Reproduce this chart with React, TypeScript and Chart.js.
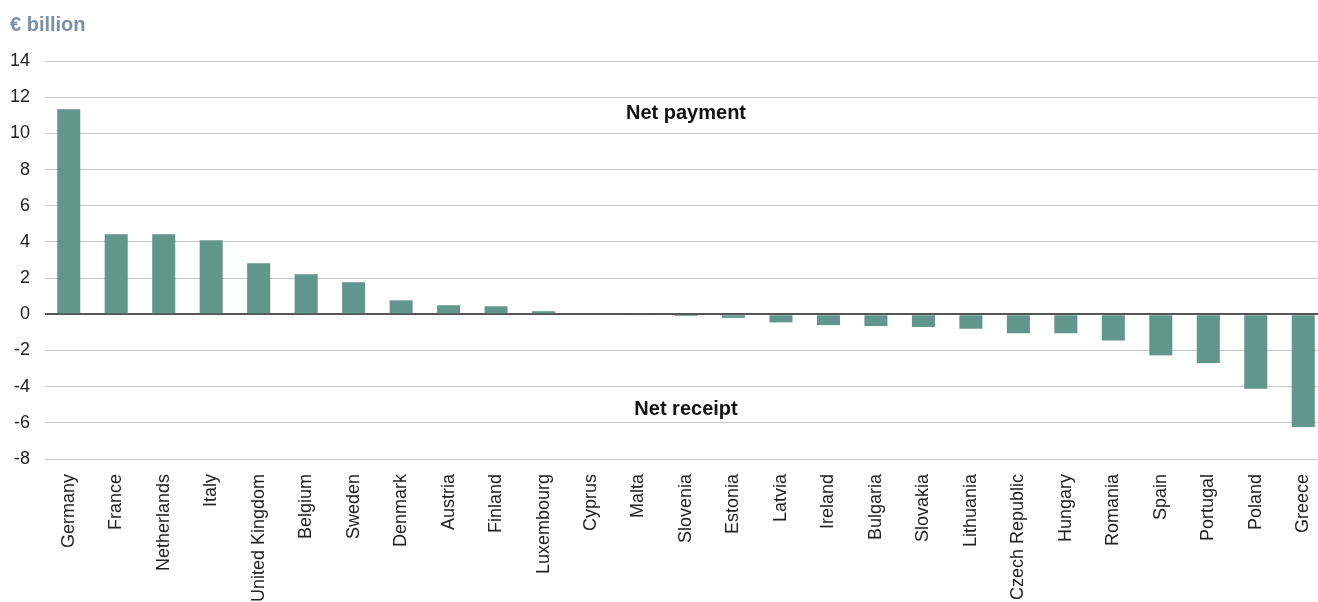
import React, { useEffect, useRef } from "react";
import { Chart, registerables } from "chart.js";

Chart.register(...registerables);

const countries = [
  "Germany", "France", "Netherlands", "Italy", "United Kingdom", "Belgium", "Sweden",
  "Denmark", "Austria", "Finland", "Luxembourg", "Cyprus", "Malta", "Slovenia",
  "Estonia", "Latvia", "Ireland", "Bulgaria", "Slovakia", "Lithuania",
  "Czech Republic", "Hungary", "Romania", "Spain", "Portugal", "Poland", "Greece",
];

const netBalance = [
  11.33, 4.42, 4.42, 4.09, 2.82, 2.21, 1.77,
  0.77, 0.5, 0.44, 0.17, 0.0, -0.05, -0.1,
  -0.2, -0.45, -0.6, -0.65, -0.7, -0.8,
  -1.05, -1.05, -1.45, -2.27, -2.69, -4.12, -6.23,
];

const yTicks = [14, 12, 10, 8, 6, 4, 2, 0, -2, -4, -6, -8];
const unitLabel = "€ billion";
const annotationTexts = ["Net payment", "Net receipt"];
const annotationValues = [11.1, -5.25];
const annotationCategoryIndex = 13;

const FONT = "'Liberation Sans', Arial, Helvetica, sans-serif";

export default function App() {
  const ref = useRef<HTMLCanvasElement | null>(null);

  useEffect(() => {
    if (!ref.current) return;
    const overlay = {
      id: "overlay",
      afterDraw(chart: any) {
        const ctx = chart.ctx;
        ctx.save();
        ctx.fillStyle = "#7b8fa6";
        ctx.font = `bold 20px ${FONT}`;
        ctx.textAlign = "left";
        ctx.textBaseline = "alphabetic";
        ctx.fillText(unitLabel, 10, 31);
        const xs = chart.scales.x;
        const ys = chart.scales.y;
        ctx.fillStyle = "#111";
        ctx.font = `bold 20px ${FONT}`;
        ctx.textAlign = "center";
        ctx.textBaseline = "middle";
        annotationTexts.forEach((t, i) => {
          ctx.fillText(t, xs.getPixelForValue(annotationCategoryIndex), ys.getPixelForValue(annotationValues[i]));
        });
        ctx.restore();
      },
    };
    const chart = new Chart(ref.current, {
      type: "bar",
      data: {
        labels: countries,
        datasets: [
          {
            data: netBalance,
            backgroundColor: "#60968b",
            barPercentage: 0.485,
            categoryPercentage: 1,
          },
        ],
      },
      options: {
        animation: false,
        responsive: true,
        maintainAspectRatio: false,
        layout: { padding: { top: 61, left: 0, right: 0, bottom: 0 } },
        plugins: { legend: { display: false }, tooltip: { enabled: false }, title: { display: false } },
        scales: {
          x: {
            grid: { display: false, drawTicks: false },
            border: { display: false },
            ticks: {
              autoSkip: false,
              minRotation: 90,
              maxRotation: 90,
              padding: 15,
              color: "#222",
              font: { family: FONT, size: 18 },
            },
            afterFit(scale: any) {
              scale.height = 143;
              scale.paddingLeft = 0;
              scale.paddingRight = 0;
            },
          },
          y: {
            min: -8,
            max: 14,
            afterBuildTicks(scale: any) {
              scale.ticks = yTicks.map((v) => ({ value: v }));
            },
            grid: {
              drawTicks: false,
              color: (c: any) => (c.tick && c.tick.value === 0 ? "#555" : "#c6c6c6"),
              lineWidth: (c: any) => (c.tick && c.tick.value === 0 ? 2 : 1),
            },
            border: { display: false },
            ticks: {
              padding: 15,
              color: "#222",
              font: { family: FONT, size: 18 },
            },
            afterFit(scale: any) {
              scale.width = 45;
              scale.paddingTop = 0;
              scale.paddingBottom = 0;
            },
          },
        },
      },
      plugins: [overlay],
    });
    return () => chart.destroy();
  }, []);

  return (
    <div style={{ position: "fixed", left: 0, top: 0, width: 1318, height: 602, overflow: "hidden", background: "#fff" }}>
      <div style={{ position: "relative", width: 1327, height: 602 }}>
        <canvas ref={ref} />
      </div>
    </div>
  );
}
